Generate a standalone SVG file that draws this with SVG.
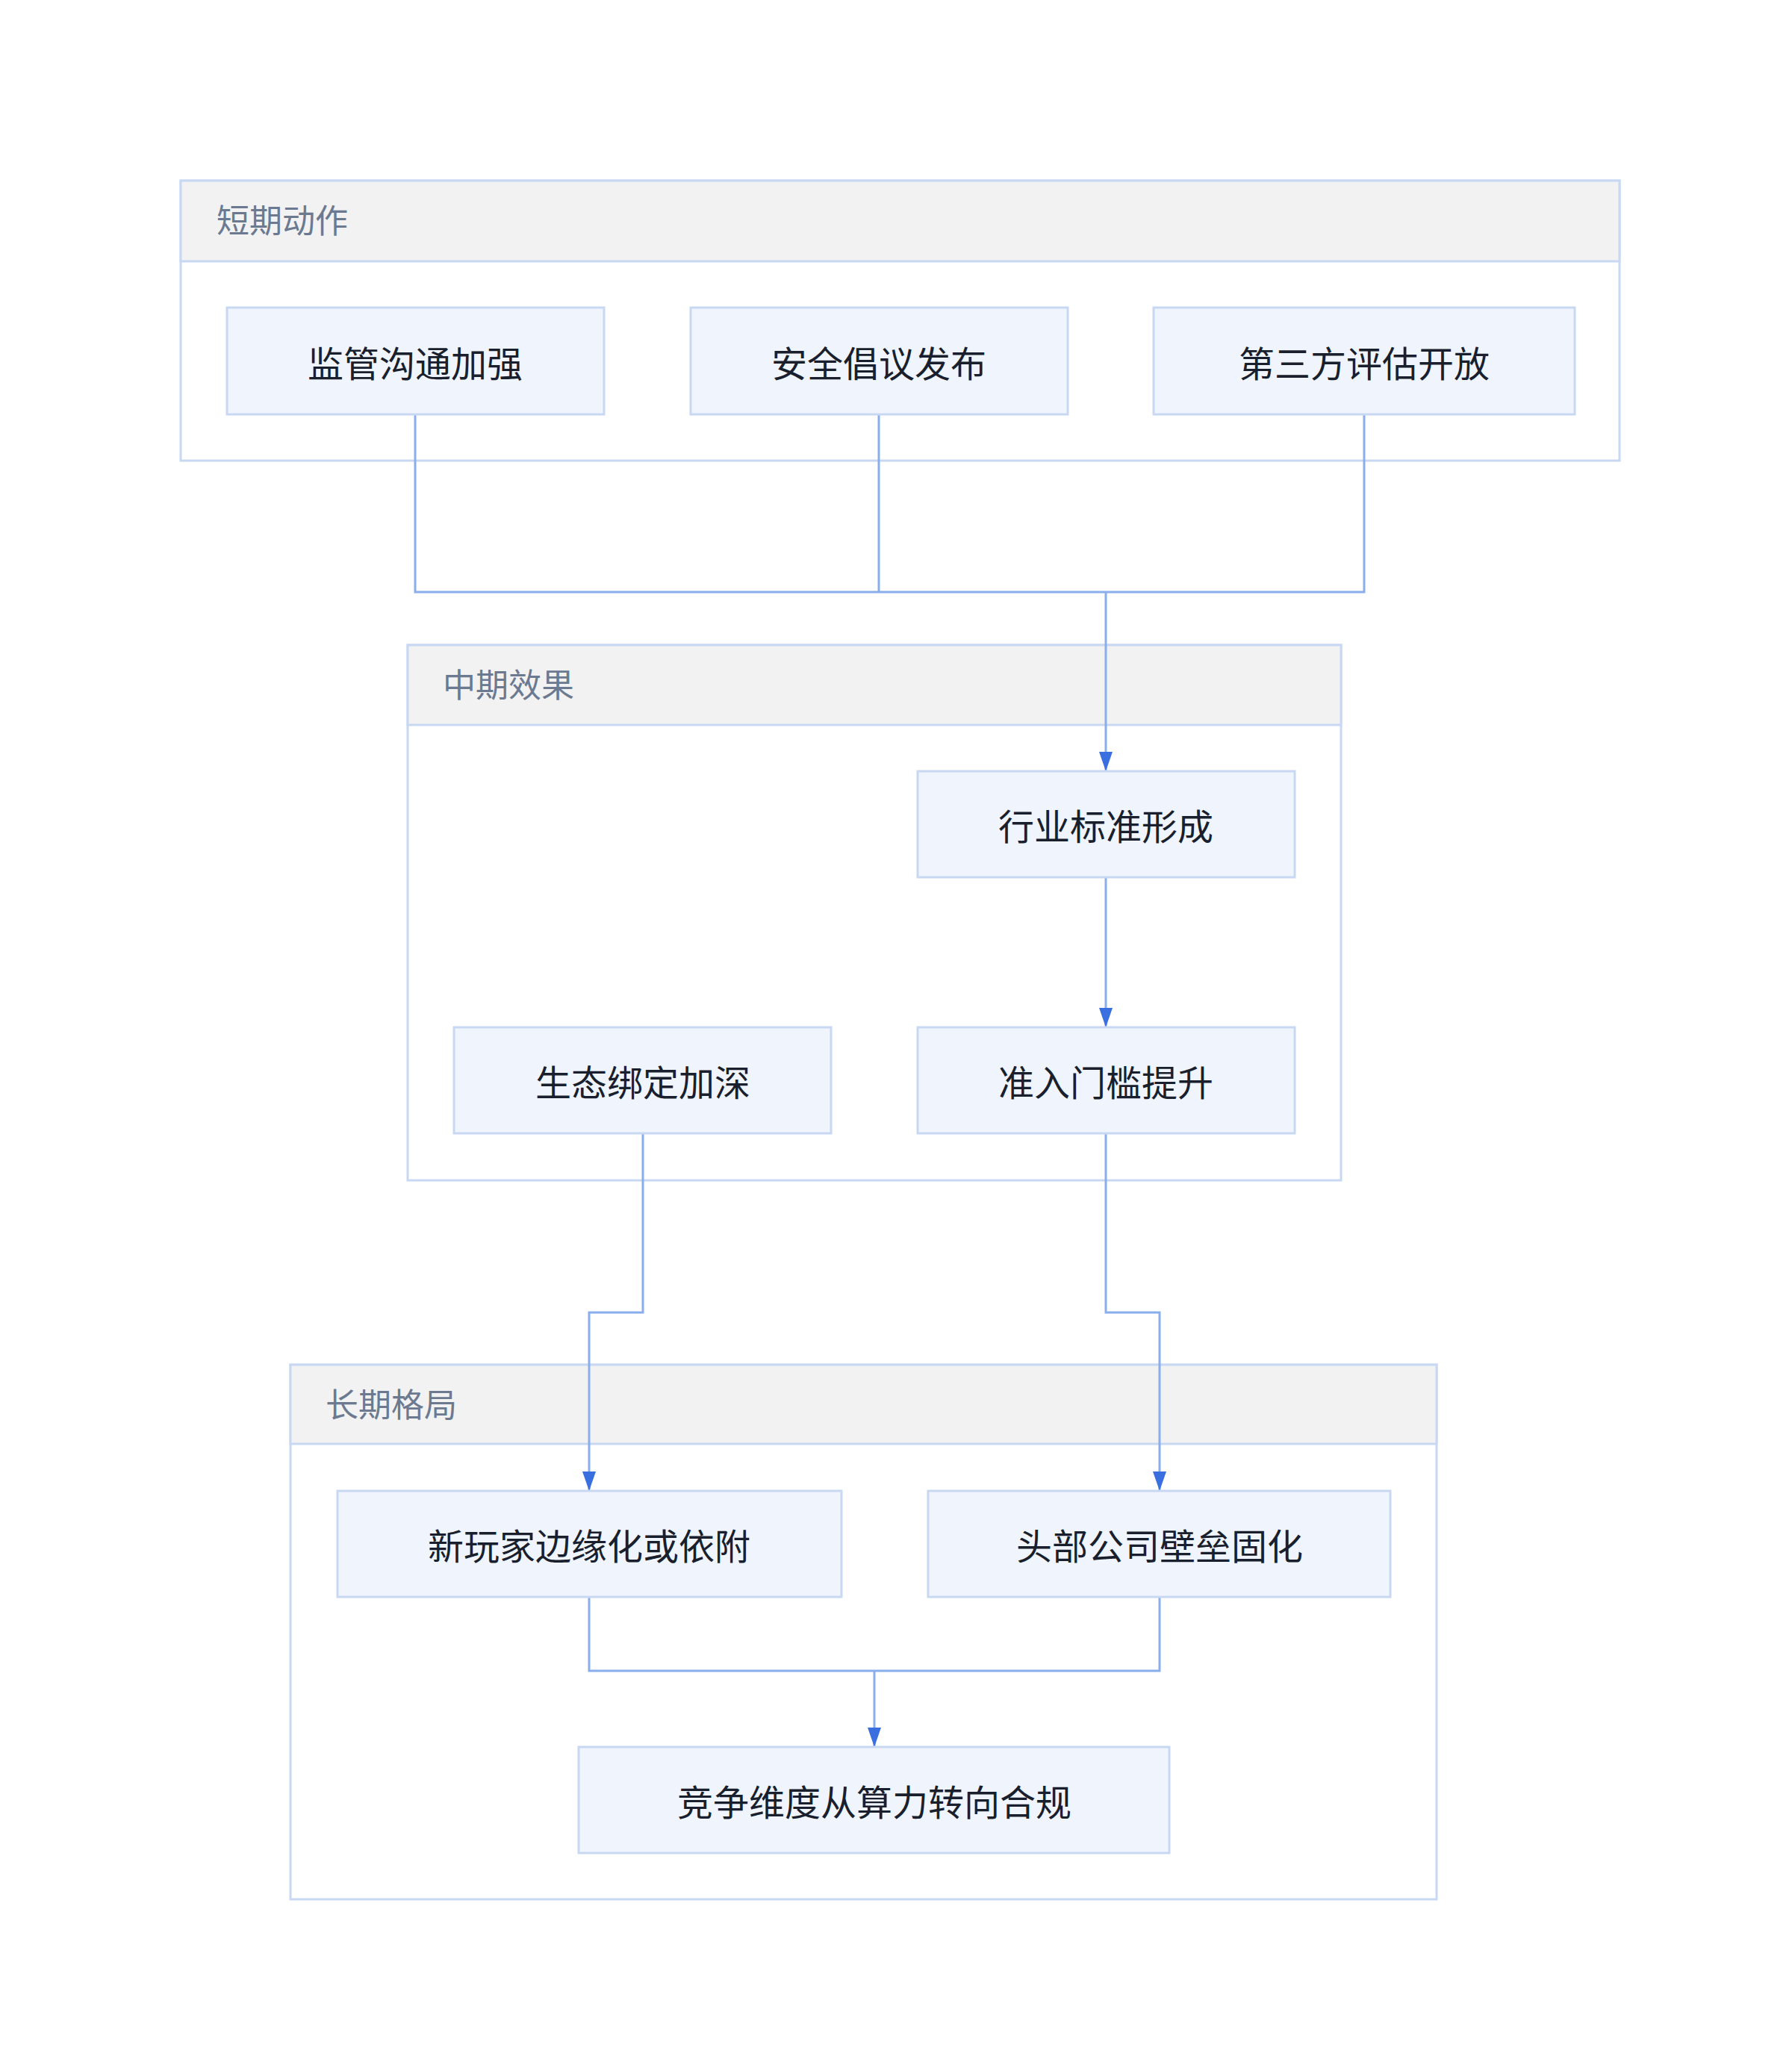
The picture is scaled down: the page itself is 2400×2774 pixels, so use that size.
<svg xmlns="http://www.w3.org/2000/svg" width="2400" height="2774" viewBox="0 0 2400 2774">
<style>
.cl{fill:#fff;stroke:#c8d8f2;stroke-width:3}
.hd{fill:#f2f2f2;stroke:#c8d8f2;stroke-width:3}
.ct{font-family:"Noto Sans CJK SC",sans-serif;font-size:44px;fill:#6b7a90}
.nd{fill:#f0f5fd;stroke:#c8d8f2;stroke-width:3}
.nt{font-family:"Noto Sans CJK SC",sans-serif;font-size:48px;fill:#1a1f2e;text-anchor:middle;dominant-baseline:central}
.e{fill:none;stroke:#8aaeec;stroke-width:3}
</style>
<defs><marker id="a" viewBox="0 0 10 10" refX="9" refY="5" markerWidth="6" markerHeight="7" orient="auto" markerUnits="userSpaceOnUse"><path d="M0,0L10,5L0,10z" fill="#3a6fe0"/></marker>
<marker id="ar" viewBox="0 0 12 16" refX="12" refY="8" markerWidth="26" markerHeight="18" orient="auto" markerUnits="userSpaceOnUse" preserveAspectRatio="none"><path d="M0,0L12,8L0,16z" fill="#3a6fe0"/></marker></defs>
<rect width="2400" height="2774" fill="#fff"/>
<g id="c1"><rect class="cl" x="242" y="242" width="1927" height="375"/><rect class="hd" x="242" y="242" width="1927" height="108"/><text class="ct" x="290" y="312">短期动作</text></g>
<g id="c2"><rect class="cl" x="546" y="864" width="1250" height="717"/><rect class="hd" x="546" y="864" width="1250" height="107"/><text class="ct" x="593" y="934">中期效果</text></g>
<g id="c3"><rect class="cl" x="389" y="1828" width="1535" height="716"/><rect class="hd" x="389" y="1828" width="1535" height="106"/><text class="ct" x="436" y="1898">长期格局</text></g>
<g id="edges">
<path class="e" d="M556,555V793H1481"/><path class="e" d="M1177,555V793"/><path class="e" d="M1827,555V793H1481"/>
<path class="e" d="M1481,793V1033" marker-end="url(#ar)"/>
<path class="e" d="M1481,1175V1376" marker-end="url(#ar)"/>
<path class="e" d="M861,1518V1758H789V1997" marker-end="url(#ar)"/>
<path class="e" d="M1481,1518V1758H1553V1997" marker-end="url(#ar)"/>
<path class="e" d="M789,2139V2238H1171"/><path class="e" d="M1553,2139V2238H1171"/>
<path class="e" d="M1171,2238V2340" marker-end="url(#ar)"/>
</g>
<g id="n1"><rect class="nd" x="304" y="412" width="505" height="143"/><text class="nt" x="556" y="484">监管沟通加强</text></g>
<g id="n2"><rect class="nd" x="925" y="412" width="505" height="143"/><text class="nt" x="1177" y="484">安全倡议发布</text></g>
<g id="n3"><rect class="nd" x="1545" y="412" width="564" height="143"/><text class="nt" x="1827" y="484">第三方评估开放</text></g>
<g id="n4"><rect class="nd" x="1229" y="1033" width="505" height="142"/><text class="nt" x="1481" y="1104">行业标准形成</text></g>
<g id="n5"><rect class="nd" x="1229" y="1376" width="505" height="142"/><text class="nt" x="1481" y="1447">准入门槛提升</text></g>
<g id="n6"><rect class="nd" x="608" y="1376" width="505" height="142"/><text class="nt" x="861" y="1447">生态绑定加深</text></g>
<g id="n7"><rect class="nd" x="452" y="1997" width="675" height="142"/><text class="nt" x="789" y="2068">新玩家边缘化或依附</text></g>
<g id="n8"><rect class="nd" x="1243" y="1997" width="619" height="142"/><text class="nt" x="1553" y="2068">头部公司壁垒固化</text></g>
<g id="n9"><rect class="nd" x="775" y="2340" width="791" height="142"/><text class="nt" x="1171" y="2411">竞争维度从算力转向合规</text></g>
</svg>
